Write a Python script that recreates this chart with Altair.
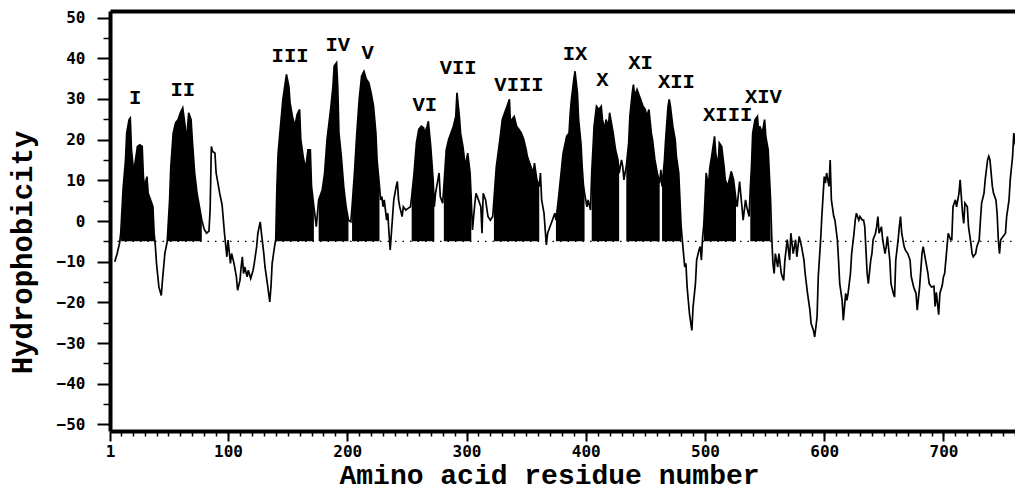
import altair as alt
import pandas as pd

# ---- hydrophobicity profile (residue number, hydrophobicity) ----
residue = [5, 7, 9, 10, 12, 14, 15, 17, 18, 19, 21, 22, 24, 26, 28, 29, 30, 32, 33, 35, 37, 38, 39,
           40, 42, 44, 45, 47, 49, 51, 52, 54, 56, 58, 60, 62, 64, 65, 67, 69, 70, 72, 74, 76, 78,
           80, 82, 84, 85, 86, 87, 89, 90, 92, 93, 95, 97, 99, 100, 102, 103,
           105, 107, 108, 110, 111, 112, 113, 114, 116, 117, 119, 121, 122, 124, 125, 127, 128, 130,
           131, 133, 135, 136, 137, 139, 140, 141, 142, 144, 146, 148, 149, 151, 152, 154, 156, 158,
           160, 161, 163, 165, 167, 169, 170, 172, 173, 174, 176, 179, 181, 183, 186, 188, 189, 191,
           192, 193, 195, 197, 199, 201, 203, 204, 206, 208, 210, 212, 214, 216, 218, 220, 222, 224,
           225, 227, 228, 229, 230, 231, 233, 234, 235, 236, 237, 238, 239, 241, 242, 243, 244, 246,
           247, 249, 251, 253, 254, 256, 258, 260, 262, 264, 265, 267, 268, 270, 272, 273, 274, 276,
           277, 278, 280, 281, 283, 285, 287, 289, 291, 292, 294, 295, 297, 299, 301, 303, 304, 305,
           307, 308, 310, 312, 313, 314, 316, 318, 320, 322, 323, 325, 328, 330, 332, 334, 336, 337,
           338, 340, 342, 344, 346, 348, 350, 351, 353, 356, 357, 359, 361, 362, 363, 365, 366, 367,
           368, 370, 372, 374, 375, 377, 379, 381, 384, 386, 387, 388, 390, 391, 393, 394, 396, 397,
           398, 399, 401, 402, 404, 405, 407, 409, 411, 413, 414, 416, 417, 419, 420, 422, 423, 425,
           427, 428, 430, 431, 432, 433, 434, 436, 437, 439, 440, 441, 443, 445, 446, 448, 450, 451,
           453, 455, 456, 458, 460, 462, 463, 464, 466, 467, 469, 470, 471, 473, 475, 476, 478, 479,
           480, 482, 483, 484, 485, 487, 489, 490, 492, 493, 495, 496, 497, 498, 499, 500, 501, 503,
           504, 506, 508, 509, 511, 512, 514, 516, 517, 519, 521, 522, 524, 526, 527, 529, 531, 532,
           534, 535, 537, 538, 539, 540, 542, 544, 545, 546, 548, 550, 551, 553, 555, 556, 557, 558,
           559, 561, 562, 564, 566, 567, 569, 571, 572, 574, 576, 577, 579, 581, 583, 584, 586, 588,
           589, 591, 592, 594, 595, 597, 598, 599, 600, 601, 602, 604, 605, 606, 608, 609, 611, 612,
           613, 615, 616, 618, 619, 620, 622, 623, 625, 626, 627, 629, 630, 632, 633, 634, 636, 637,
           639, 640, 641, 643, 644, 645, 646, 648, 649, 651, 652, 653, 655, 656, 658, 659, 660, 662,
           663, 664, 665, 667, 668, 670, 672, 673, 675, 677, 678, 680, 682, 683, 685, 687, 688, 690,
           692, 693, 694, 696, 697, 699, 700, 701, 702, 703, 704, 706, 707, 708, 710, 711, 713, 714,
           716, 717, 718, 720, 721, 723, 724, 725, 727, 728, 730, 731, 732, 734, 735, 737, 738, 739,
           741, 742, 744, 745, 746, 747, 748, 750, 752, 753, 755, 756, 758, 759, 760, 762, 763, 765,
           766, 767]
hydro = [-10, -8, -5.5, -3, 8, 15, 21.6, 24.9, 25.3, 17.5, 11.8, 14.2, 18.3, 18.7, 18.3, 10.9, 8.5,
         10.9, 6.8, 5.2, 3.5, -3, -6,
         -10.4, -16.2, -18.3, -14.6, -8, -5, 5.2, 13.4, 21.6, 24.1, 24.9, 26.6, 27.8, 23.3, 19.2,
         26.6, 24.9, 20, 11.8, 6.8, 3.5, 0.2,
         -2, -3, -2.5, 3, 18.3, 17.1, 16.7, 11.8, 8.5, 6.8, 4, -3, -8.8, -4.7, -10.4, -8,
         -10.4, -13.7, -17, -14.6, -11.3, -8.8, -12.9, -11.3, -13.7, -12.1, -14.1, -12.1, -10.4,
         -6.3, -3, -0.2, -3, -8,
         -11.3, -15.4, -19.9, -16.2, -10.4, -6.3, -4.5, 8.5, 16.7, 23.3, 29.9, 34, 36, 33.1, 29,
         25.7, 23.3, 26.2,
         27.4, 20, 15.9, 12.6, 17.5, 17.5, 8.5, 3.5, 1.1, -1.4, 5.2, 7.6, 11.8, 20, 27.4, 33.1,
         38.1, 38.9,
         33.1, 21.6, 15.9, 8.5, 3.5, 0.2, -0.2, 3.5, 11.8, 21.6, 29.9, 35.6, 36.8, 34.8, 34, 31.5,
         28.2, 21.6,
         15, 8.5, 5.2, 6, 3.5, 5.2, 0.2, 1.9, -3, -7.1, -3, 1.1, 5.2, 8.5, 9.7, 5.2, 3.5, 1.1,
         3.5, 2.7, 3.1, 3.5, 6, 11.8, 19.2, 22.5, 23.3, 22.9, 21.6, 23.3, 24.5, 18.3, 10.1, 3.5,
         6.8, 10.1,
         11.8, 6, 4.4, 8.5, 17.5, 20, 21.6, 23.3, 25.7, 31.5, 25.7, 21.6, 18.3, 13.4, 16.7, 11.8,
         5.2, -2.2,
         4.4, 6.8, 5.2, 3.5, -3, 6.8, 5.2, 1.1, 0.2, 1.1, 5.2, 13.4, 20, 24.9, 26.6, 28.2, 29.9,
         22.5,
         24.9, 25.7, 23.3, 22.5, 21.6, 20, 17.5, 15.9, 14.2, 11.8, 14.2, 10.1, 8.5, 11.8, 5.2, 1.9,
         -2.2, -5.9,
         -3, -1.4, 0.2, 1.9, 0.2, 5.2, 10.9, 16.7, 20.8, 21.6, 26.6, 29.9, 34.8, 36.8, 31.5, 24.9,
         19, 13.4,
         9, 6.8, 3.5, 5.2, 2.7, 11.8, 23.3, 28.2, 27.4, 28.2, 24.9, 22.5, 24.9, 23.3, 26.6, 23.3,
         21.6, 17.5,
         15, 11.8, 15, 13.4, 10.1, 11.8, 13.4, 19.2, 25.7, 31.5, 33.5, 30.7, 32.3, 30.7, 29.9, 28.2,
         27.4, 25.7,
         27.4, 21.6, 20, 15, 11.8, 9.3, 12.6, 8.5, 15, 20, 28.2, 29.9, 28.2, 23.3, 20, 15.9, 11.8,
         5.2,
         -1.4, -8, -11.3, -10.4, -16.2, -22.8, -26.9, -21.1, -15.4, -9.6, -7.1, -6.3, -9.6, -4, -1,
         5.2, 11.8, 8.5,
         13, 16.7, 20.8, 16.7, 13.4, 19.2, 18.3, 13.4, 10.1, 8.5, 10.9, 12.2, 10.1, 5.2, 3.5, 9.7,
         3.5, 0.2,
         5.2, 3.5, 1.1, 8, 13.4, 21.6, 24.9, 25.7, 21.6, 23.3, 21.6, 24.9, 20.8, 17.5, 5.2, -4,
         -10.4, -12.9,
         -8, -11.3, -8, -12.9, -14.6, -9.6, -4.6, -9.6, -3, -8, -4.6, -8.8, -3.8, -6.3, -9.6, -12.9,
         -17.8, -21.9,
         -25.2, -26.9, -28.5, -23.6, -13.7, -4.6, 1.1, 6, 10.9, 9.3, 11.8, 8.5, 15, 5.2, 1.1, 0.2,
         -4.6, -9.6,
         -15.4, -19.5, -24.4, -17.8, -19.5, -17.8, -12.9, -8, -3, 0.2, 1.9, 0.2, 1.1, 0.2, 0.2,
         -1.4, -12.9, -15.4,
         -9.6, -8, -4.6, -3, -1.4, 1.1, -3, -1.4, -4.6, -8, -6.3, -3.8, -9.6, -15.4, -17.8, -18.7,
         -9.6, -4.6,
         -1.4, 1.1, -3, -6.3, -7.1, -8, -9.6, -13.7, -16.2, -17.8, -21.9, -16.2, -8, -6.3, -9.6,
         -12.9, -15.4, -16.2,
         -16, -21, -17.5, -23, -17.8, -15.8, -13.7, -12.9, -9.6, -6.3, -3, -4.6, -4.6, 3.5, 5.2,
         3.5, 6.8, 10.1,
         1.9, -0.6, 4.4, 3.5, -1.4, -5.5, -8, -8.8, -8, -6.3, -4.6, 0.2, 4.4, 6.8, 10.1, 15, 15.9,
         15,
         8.5, 6.8, 5.2, 1.9, -4.6, -8, -4.6, -3.8, -3, 1.1, 5.2, 10.1, 15.9, 21.6, 19.2, 16.7, 15,
         8.5,
         10.1, 10]

# ---- hydrophobic segments (filled), with their labels ----
seg_names = ["I", "II", "III", "IV", "V", "VI", "VII", "VIII", "IX", "X", "XI", "XII", "XIII", "XIV"]
seg_start = [10, 49, 140, 176, 204, 254, 281, 323, 375, 405, 434, 464, 499, 538]
seg_end = [38, 78, 172, 201, 227, 273, 304, 361, 399, 428, 462, 480, 526, 555]
label_residue = [22, 62, 152, 192, 217, 265, 293, 344, 391, 414, 446, 476, 519, 549]
label_level = [30.2, 32.2, 40.5, 43.2, 41.3, 28.5, 37.6, 33.4, 41.0, 34.6, 38.8, 34.2, 26.0, 30.5]

baseline_level = [-5]
x_major = [1, 100, 200, 300, 400, 500, 600, 700]
x_minor = list(range(10, 761, 10))
y_major = list(range(-50, 51, 10))
y_minor = list(range(-45, 50, 10))

df = pd.DataFrame({"residue": residue, "hydro": hydro})


def seg_of(r):
    for n, s, e in zip(seg_names, seg_start, seg_end):
        if s <= r <= e:
            return n
    return ""


df["segment"] = [seg_of(r) for r in residue]
fill_df = df[df["segment"] != ""].copy()
fill_df["base"] = baseline_level[0]
labels_df = pd.DataFrame({"name": seg_names, "residue": label_residue, "level": label_level})
base_df = pd.DataFrame({"level": baseline_level})

xs = alt.Scale(domain=[1, 760], nice=False, zero=False)
ys = alt.Scale(domain=[-51.6, 51.6], nice=False, zero=False)

TICK_FONT = "DejaVu Sans Mono"
TITLE_FONT = "Liberation Mono"

x_main_axis = alt.Axis(
    orient="bottom", values=x_major, tickSize=10, tickWidth=2, tickColor="black",
    domainWidth=4, domainColor="black", grid=False,
    labelFont=TICK_FONT, labelFontSize=16, labelFontWeight="bold", labelColor="black",
    labelPadding=2, labelFlush=False, labelOverlap=False,
    title="Amino acid residue number", titleFont=TITLE_FONT, titleFontSize=28,
    titleFontWeight="bold", titleColor="black", titleX=439, titleY=44, titleAlign="center",
    titleBaseline="middle",
)
y_main_axis = alt.Axis(
    orient="left", values=y_major, tickSize=13, tickWidth=2, tickColor="black",
    domainWidth=4, domainColor="black", grid=False,
    labelFont=TICK_FONT, labelFontSize=16, labelFontWeight="bold", labelColor="black",
    labelPadding=12, labelOverlap=False,
    title="Hydrophobicity", titleFont=TITLE_FONT, titleFontSize=29, titleFontWeight="bold",
    titleColor="black", titleAngle=270, titleX=-88, titleY=241, titleAlign="center",
    titleBaseline="middle",
)
x_minor_axis = alt.Axis(orient="bottom", values=x_minor, tickSize=5, tickWidth=1.5,
                        tickColor="black", labels=False, domain=False, grid=False, title=None)
y_minor_axis = alt.Axis(orient="left", values=y_minor, tickSize=7, tickWidth=1.5,
                        tickColor="black", labels=False, domain=False, grid=False, title=None)
x_top_axis = alt.Axis(orient="top", ticks=False, labels=False, domainWidth=4,
                      domainColor="black", grid=False, title=None)

area = alt.Chart(fill_df).mark_area(color="black", interpolate="linear", clip=True).encode(
    x=alt.X("residue:Q", scale=xs, axis=x_top_axis),
    y=alt.Y("hydro:Q", scale=ys, stack=None, axis=None),
    y2="base:Q",
    detail="segment:N",
)

line = alt.Chart(df).mark_line(color="black", strokeWidth=1.7, clip=True).encode(
    x=alt.X("residue:Q", scale=xs, axis=x_main_axis),
    y=alt.Y("hydro:Q", scale=ys, axis=y_main_axis),
)

rule = alt.Chart(base_df).mark_rule(color="black", strokeWidth=1.2, strokeDash=[1.5, 6]).encode(
    y=alt.Y("level:Q", scale=ys, axis=y_minor_axis),
    x=alt.datum(1, scale=xs, axis=x_minor_axis),
    x2=alt.datum(760),
)

text = alt.Chart(labels_df).mark_text(
    font=TITLE_FONT, fontSize=20.5, fontWeight="bold", color="black",
    align="center", baseline="middle",
).encode(
    x=alt.X("residue:Q", scale=xs, axis=None),
    y=alt.Y("level:Q", scale=ys, axis=None),
    text="name:N",
)

chart = (
    alt.layer(rule, area, line, text)
    .resolve_axis(x="independent", y="independent")
    .properties(
        width=905, height=420,
        autosize=alt.AutoSizeParams(type="none"),
        padding={"left": 102, "top": 3, "right": 0, "bottom": 59},
        background="white",
    )
    .configure_view(strokeWidth=0)
)

chart.save("out.html", embed_options={"renderer": "svg", "actions": False})
